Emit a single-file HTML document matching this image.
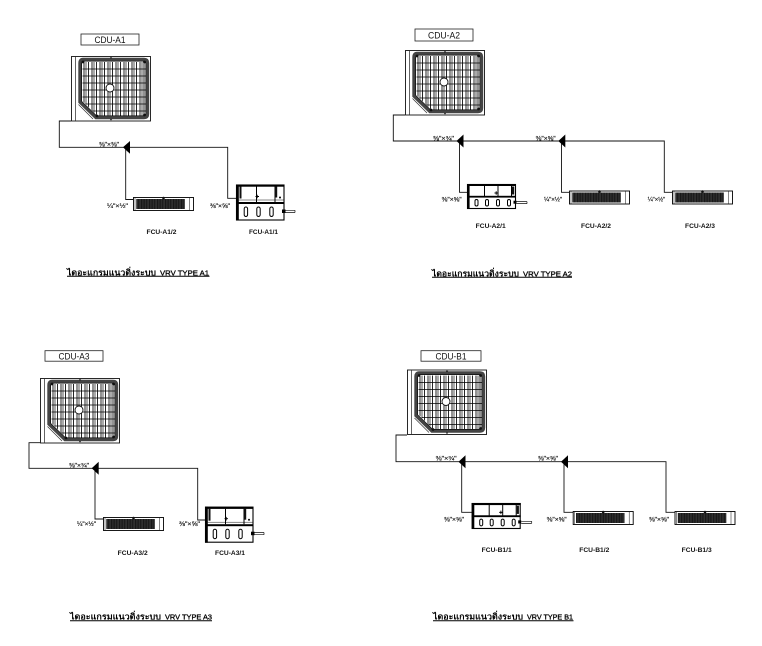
<!DOCTYPE html>
<html><head><meta charset="utf-8">
<style>html,body{margin:0;padding:0;background:#fff}svg{display:block}</style>
</head>
<body>
<svg width="762" height="646" viewBox="0 0 762 646" xmlns="http://www.w3.org/2000/svg" xmlns:xlink="http://www.w3.org/1999/xlink" font-family="'Liberation Sans', sans-serif">
<defs>
  <clipPath id="gc"><path d="M13,6 H72 Q74.5,6 74.5,8.5 V57 Q74.5,59.5 72,59.5 H26 L11.5,45 V8.5 Q11.5,6 13,6 Z"/></clipPath>
  <pattern id="hatch" width="1.6" height="10" patternUnits="userSpaceOnUse">
    <rect width="1.6" height="10" fill="#151515"/><rect x="1.1" width="0.4" height="10" fill="#555"/>
  </pattern>
  <g id="cdu">
    <rect x="0.5" y="0.5" width="79" height="64.5" fill="#fff" stroke="#111" stroke-width="0.9"/>
    <line x1="4.5" y1="1" x2="4.5" y2="64.5" stroke="#222" stroke-width="0.7"/>
    <g clip-path="url(#gc)">
      <g stroke="#666" stroke-width="1.1">
        <line x1="15" y1="0" x2="15" y2="65"/><line x1="23" y1="0" x2="23" y2="65"/>
        <line x1="31" y1="0" x2="31" y2="65"/><line x1="39" y1="0" x2="39" y2="65"/>
        <line x1="47" y1="0" x2="47" y2="65"/><line x1="55" y1="0" x2="55" y2="65"/>
        <line x1="63" y1="0" x2="63" y2="65"/><line x1="71" y1="0" x2="71" y2="65"/>
      </g>
      <g stroke="#000" stroke-width="0.85">
        <line x1="13" y1="0" x2="13" y2="65"/><line x1="17.5" y1="0" x2="17.5" y2="65"/>
        <line x1="21" y1="0" x2="21" y2="65"/><line x1="25.5" y1="0" x2="25.5" y2="65"/>
        <line x1="29" y1="0" x2="29" y2="65"/><line x1="33.5" y1="0" x2="33.5" y2="65"/>
        <line x1="37" y1="0" x2="37" y2="65"/><line x1="41.5" y1="0" x2="41.5" y2="65"/>
        <line x1="45" y1="0" x2="45" y2="65"/><line x1="49.5" y1="0" x2="49.5" y2="65"/>
        <line x1="53" y1="0" x2="53" y2="65"/><line x1="57.5" y1="0" x2="57.5" y2="65"/>
        <line x1="61" y1="0" x2="61" y2="65"/><line x1="65.5" y1="0" x2="65.5" y2="65"/>
        <line x1="69" y1="0" x2="69" y2="65"/><line x1="73" y1="0" x2="73" y2="65"/>
      </g>
      <g stroke="#000" stroke-width="0.85">
        <line x1="0" y1="13" x2="80" y2="13"/><line x1="0" y1="20" x2="80" y2="20"/>
        <line x1="0" y1="27" x2="80" y2="27"/><line x1="0" y1="34" x2="80" y2="34"/>
        <line x1="0" y1="41" x2="80" y2="41"/><line x1="0" y1="48" x2="80" y2="48"/>
        <line x1="0" y1="55" x2="80" y2="55"/>
      </g>
    </g>
    <path d="M12,3.5 H73 Q76.5,3.5 76.5,7 V58 Q76.5,61.5 73,61.5 H25 L9,46 V7 Q9,3.5 12,3.5 Z" fill="none" stroke="#444" stroke-width="3.4"/>
    <path d="M12.5,5.2 H72.5 Q74.8,5.2 74.8,7.5 V57.5 Q74.8,59.8 72.5,59.8 H25.6 L10.7,45.3 V7.5 Q10.7,5.2 12.5,5.2 Z" fill="none" stroke="#000" stroke-width="0.6"/>
    <line x1="7.5" y1="48.5" x2="22" y2="63" stroke="#333" stroke-width="0.7"/>
    <circle cx="39" cy="32" r="4" fill="#fff" stroke="#111" stroke-width="0.9"/>
    <g fill="#111">
      <circle cx="12" cy="6" r="1.4"/><circle cx="73.5" cy="6" r="1.4"/>
      <circle cx="73.5" cy="59" r="1.4"/><circle cx="26" cy="60" r="1.4"/>
      <circle cx="40" cy="1.8" r="0.8"/><circle cx="40" cy="63.5" r="0.8"/>
    </g>
  </g>
  <g id="slim">
    <rect x="0.5" y="0.5" width="60" height="13" fill="#fff" stroke="#000" stroke-width="0.9"/>
    <rect x="3.3" y="2" width="48.5" height="10" fill="url(#hatch)"/>
    <line x1="2" y1="1" x2="2" y2="13" stroke="#111" stroke-width="0.5"/>
    <line x1="56.5" y1="1" x2="56.5" y2="13" stroke="#111" stroke-width="0.5"/>
    <circle cx="30.5" cy="1" r="1.3" fill="#111"/>
  </g>
  <g id="dT">
    <rect x="0.5" y="0.5" width="47.5" height="35" fill="#fff" stroke="#000" stroke-width="1.1"/>
    <rect x="0" y="0" width="48.5" height="2.2" fill="#000"/>
    <rect x="0" y="0" width="2.8" height="36" fill="#000"/>
    <rect x="0" y="17.5" width="48.5" height="2" fill="#000"/>
    <line x1="2" y1="15.5" x2="48" y2="15.5" stroke="#111" stroke-width="0.5"/>
    <rect x="3.5" y="2" width="2" height="12" fill="#111"/>
    <line x1="20.5" y1="2" x2="20.5" y2="17.5" stroke="#000" stroke-width="1"/>
    <line x1="39" y1="2" x2="39" y2="17.5" stroke="#000" stroke-width="1"/>
    <rect x="39" y="2" width="2.2" height="11" fill="#111"/>
    <path d="M19.5,12 h3.5 M21.2,10.2 v3.6" stroke="#000" stroke-width="0.9"/>
    <circle cx="44" cy="13" r="1" fill="#000"/>
    <g fill="#fff" stroke="#000" stroke-width="1">
      <rect x="8.2" y="22.5" width="3.4" height="9.5" rx="1.7"/>
      <rect x="20.8" y="22.5" width="3.4" height="9.5" rx="1.7"/>
      <rect x="33.8" y="22.5" width="3.4" height="9.5" rx="1.7"/>
    </g>
    <rect x="46" y="25" width="3.5" height="3.5" fill="#000"/>
    <path d="M49.5,25.8 H59 M49.5,28 H59 M59,25.8 V28" stroke="#111" stroke-width="0.7" fill="none"/>
  </g>
  <g id="dS">
    <rect x="0.5" y="0.5" width="48" height="24" fill="#fff" stroke="#000" stroke-width="1.1"/>
    <rect x="0" y="0" width="49" height="2" fill="#000"/>
    <rect x="0" y="0" width="2.6" height="25" fill="#000"/>
    <rect x="0" y="11.8" width="49" height="1.8" fill="#000"/>
    <line x1="17.5" y1="1.8" x2="17.5" y2="12" stroke="#000" stroke-width="1"/>
    <line x1="31" y1="1.8" x2="31" y2="12" stroke="#000" stroke-width="1"/>
    <line x1="44.5" y1="1.8" x2="44.5" y2="12" stroke="#000" stroke-width="1"/>
    <rect x="45" y="2.5" width="2.2" height="8" fill="#111"/>
    <path d="M27.5,9 h3.5 M29.2,7.3 v3.4" stroke="#000" stroke-width="0.9"/>
    <g fill="#fff" stroke="#000" stroke-width="1">
      <rect x="8" y="15.5" width="3" height="6.5" rx="1.5"/>
      <rect x="18.5" y="15.5" width="3" height="6.5" rx="1.5"/>
      <rect x="29.5" y="15.5" width="3" height="6.5" rx="1.5"/>
      <rect x="40.5" y="15.5" width="3" height="6.5" rx="1.5"/>
    </g>
    <rect x="46.5" y="16.7" width="3" height="3" fill="#000"/>
    <path d="M49.5,17.6 H60 M49.5,19.6 H60 M60,17.6 V19.6" stroke="#111" stroke-width="0.7" fill="none"/>
  </g>
</defs>

<rect width="762" height="646" fill="#fff"/>

<!-- ===== A1 ===== -->
<rect x="81" y="34" width="58" height="11" fill="#fff" stroke="#222" stroke-width="0.8"/>
<text x="110" y="43" font-size="9.5" text-anchor="middle" textLength="31" lengthAdjust="spacingAndGlyphs" fill="#111">CDU-A1</text>
<use xlink:href="#cdu" transform="translate(71,56)"/>
<g fill="none" stroke="#111" stroke-width="0.9">
  <polyline points="71,121 59.3,121 59.3,147.3 227.7,147.3 227.7,198.3 236,198.3"/>
  <polyline points="125.7,147.3 125.7,199.5 133,199.5"/>
</g>
<polygon points="123,147.3 130,141 130,153.8" fill="#000"/>
<use xlink:href="#slim" transform="translate(133,197)"/>
<use xlink:href="#dT" transform="translate(236,184.5)"/>
<g font-size="6" fill="#111" stroke="#111" stroke-width="0.15">
  <text x="99" y="146.5" textLength="20" lengthAdjust="spacingAndGlyphs">⅜"×⅜"</text>
  <text x="107" y="208" textLength="21" lengthAdjust="spacingAndGlyphs">¼"×½"</text>
  <text x="210" y="208" textLength="20" lengthAdjust="spacingAndGlyphs">⅜"×⅝"</text>
</g>
<g font-size="6.3" font-weight="bold" fill="#111" text-anchor="middle">
  <text x="161.5" y="234" textLength="30" lengthAdjust="spacingAndGlyphs">FCU-A1/2</text>
  <text x="263.5" y="234" textLength="29" lengthAdjust="spacingAndGlyphs">FCU-A1/1</text>
</g>
<g font-weight="bold" fill="#000">
<text x="67" y="275.3" font-size="8.5" font-family="'Liberation Sans','DejaVu Sans',sans-serif" textLength="89" lengthAdjust="spacingAndGlyphs">ไดอะแกรมแนวดิ่งระบบ</text>
<text x="160" y="275.3" font-size="7.5" font-weight="normal" stroke="#000" stroke-width="0.3" textLength="49" lengthAdjust="spacingAndGlyphs">VRV TYPE A1</text>
</g>
<line x1="67" y1="276.3" x2="209.5" y2="276.3" stroke="#000" stroke-width="1"/>

<!-- ===== A2 ===== -->
<rect x="415" y="29" width="58" height="12" fill="#fff" stroke="#222" stroke-width="0.8"/>
<text x="444" y="38.7" font-size="9.5" text-anchor="middle" textLength="32" lengthAdjust="spacingAndGlyphs" fill="#111">CDU-A2</text>
<use xlink:href="#cdu" transform="translate(405,50)"/>
<g fill="none" stroke="#111" stroke-width="0.9">
  <polyline points="405,115 393.3,115 393.3,141 664.3,141 664.3,192.3 672,192.3"/>
  <polyline points="459.5,141 459.5,192.3 467,192.3"/>
  <polyline points="561.5,141 561.5,192.3 569,192.3"/>
</g>
<polygon points="456.5,141 463.5,134.5 463.5,147.5" fill="#000"/>
<polygon points="558.3,141 565.3,134.5 565.3,147.5" fill="#000"/>
<use xlink:href="#dS" transform="translate(467,184)"/>
<use xlink:href="#slim" transform="translate(569,190.5)"/>
<use xlink:href="#slim" transform="translate(672,190.5)"/>
<g font-size="6" fill="#111" stroke="#111" stroke-width="0.15">
  <text x="433" y="140.5" textLength="21" lengthAdjust="spacingAndGlyphs">⅜"×¾"</text>
  <text x="535.7" y="140.5" textLength="20" lengthAdjust="spacingAndGlyphs">⅜"×⅝"</text>
  <text x="441.7" y="201.5" textLength="20" lengthAdjust="spacingAndGlyphs">⅜"×⅝"</text>
  <text x="544" y="201.5" textLength="18" lengthAdjust="spacingAndGlyphs">¼"×½"</text>
  <text x="647.7" y="201.5" textLength="17.5" lengthAdjust="spacingAndGlyphs">¼"×½"</text>
</g>
<g font-size="6.3" font-weight="bold" fill="#111" text-anchor="middle">
  <text x="490.7" y="228" textLength="30" lengthAdjust="spacingAndGlyphs">FCU-A2/1</text>
  <text x="596" y="228" textLength="30" lengthAdjust="spacingAndGlyphs">FCU-A2/2</text>
  <text x="700" y="228" textLength="30" lengthAdjust="spacingAndGlyphs">FCU-A2/3</text>
</g>
<g font-weight="bold" fill="#000">
<text x="432" y="276.3" font-size="8.5" font-family="'Liberation Sans','DejaVu Sans',sans-serif" textLength="87" lengthAdjust="spacingAndGlyphs">ไดอะแกรมแนวดิ่งระบบ</text>
<text x="523" y="276.3" font-size="7.5" font-weight="normal" stroke="#000" stroke-width="0.3" textLength="49" lengthAdjust="spacingAndGlyphs">VRV TYPE A2</text>
</g>
<line x1="432" y1="277.3" x2="572" y2="277.3" stroke="#000" stroke-width="1"/>

<!-- ===== A3 ===== -->
<rect x="45" y="350.7" width="58" height="10.5" fill="#fff" stroke="#222" stroke-width="0.8"/>
<text x="74" y="359.3" font-size="9.5" text-anchor="middle" textLength="31" lengthAdjust="spacingAndGlyphs" fill="#111">CDU-A3</text>
<use xlink:href="#cdu" transform="translate(40,378)"/>
<g fill="none" stroke="#111" stroke-width="0.9">
  <polyline points="40,442.7 29,442.7 29,468.3 197.7,468.3 197.7,520 205,520"/>
  <polyline points="95,468.3 95,519 103,519"/>
</g>
<polygon points="91.7,468.3 98.7,461.8 98.7,474.8" fill="#000"/>
<use xlink:href="#slim" transform="translate(103,517)"/>
<use xlink:href="#dT" transform="translate(205,506.7)"/>
<g font-size="6" fill="#111" stroke="#111" stroke-width="0.15">
  <text x="69" y="467.5" textLength="20" lengthAdjust="spacingAndGlyphs">⅜"×¾"</text>
  <text x="77" y="526" textLength="19" lengthAdjust="spacingAndGlyphs">¼"×½"</text>
  <text x="179" y="526" textLength="21" lengthAdjust="spacingAndGlyphs">⅜"×⅝"</text>
</g>
<g font-size="6.3" font-weight="bold" fill="#111" text-anchor="middle">
  <text x="132.7" y="555" textLength="30" lengthAdjust="spacingAndGlyphs">FCU-A3/2</text>
  <text x="230" y="555" textLength="30" lengthAdjust="spacingAndGlyphs">FCU-A3/1</text>
</g>
<g font-weight="bold" fill="#000">
<text x="70" y="619.7" font-size="8.5" font-family="'Liberation Sans','DejaVu Sans',sans-serif" textLength="91" lengthAdjust="spacingAndGlyphs">ไดอะแกรมแนวดิ่งระบบ</text>
<text x="165" y="619.7" font-size="7.5" font-weight="normal" stroke="#000" stroke-width="0.3" textLength="47" lengthAdjust="spacingAndGlyphs">VRV TYPE A3</text>
</g>
<line x1="70" y1="620.7" x2="212" y2="620.7" stroke="#000" stroke-width="1"/>

<!-- ===== B1 ===== -->
<rect x="421" y="350.7" width="60" height="10.5" fill="#fff" stroke="#222" stroke-width="0.8"/>
<text x="451" y="359.3" font-size="9.5" text-anchor="middle" textLength="31" lengthAdjust="spacingAndGlyphs" fill="#111">CDU-B1</text>
<use xlink:href="#cdu" transform="translate(407,369.5)"/>
<g fill="none" stroke="#111" stroke-width="0.9">
  <polyline points="407,435 396,435 396,461.7 666,461.7 666,512.3 674.5,512.3"/>
  <polyline points="461.7,461.7 461.7,512.3 472,512.3"/>
  <polyline points="564,461.7 564,512.3 573,512.3"/>
</g>
<polygon points="458.5,461.7 465.5,455.2 465.5,468.2" fill="#000"/>
<polygon points="561,461.7 568,455.2 568,468.2" fill="#000"/>
<use xlink:href="#dS" transform="translate(471.7,503) scale(1,1.04)"/>
<use xlink:href="#slim" transform="translate(572.7,511)"/>
<use xlink:href="#slim" transform="translate(674.5,511)"/>
<g font-size="6" fill="#111" stroke="#111" stroke-width="0.15">
  <text x="435.7" y="460.5" textLength="21" lengthAdjust="spacingAndGlyphs">⅜"×¾"</text>
  <text x="538" y="460.5" textLength="20" lengthAdjust="spacingAndGlyphs">⅜"×⅝"</text>
  <text x="444" y="521.5" textLength="20" lengthAdjust="spacingAndGlyphs">⅜"×⅝"</text>
  <text x="546.7" y="521.5" textLength="20" lengthAdjust="spacingAndGlyphs">⅜"×⅝"</text>
  <text x="649" y="521.5" textLength="20" lengthAdjust="spacingAndGlyphs">⅜"×⅝"</text>
</g>
<g font-size="6.3" font-weight="bold" fill="#111" text-anchor="middle">
  <text x="496.7" y="552" textLength="30" lengthAdjust="spacingAndGlyphs">FCU-B1/1</text>
  <text x="594.3" y="552" textLength="30" lengthAdjust="spacingAndGlyphs">FCU-B1/2</text>
  <text x="696.7" y="552" textLength="30" lengthAdjust="spacingAndGlyphs">FCU-B1/3</text>
</g>
<g font-weight="bold" fill="#000">
<text x="433" y="619.7" font-size="8.5" font-family="'Liberation Sans','DejaVu Sans',sans-serif" textLength="90" lengthAdjust="spacingAndGlyphs">ไดอะแกรมแนวดิ่งระบบ</text>
<text x="527" y="619.7" font-size="7.5" font-weight="normal" stroke="#000" stroke-width="0.3" textLength="46" lengthAdjust="spacingAndGlyphs">VRV TYPE B1</text>
</g>
<line x1="433" y1="620.7" x2="573.5" y2="620.7" stroke="#000" stroke-width="1"/>
</svg>
</body>
</html>
